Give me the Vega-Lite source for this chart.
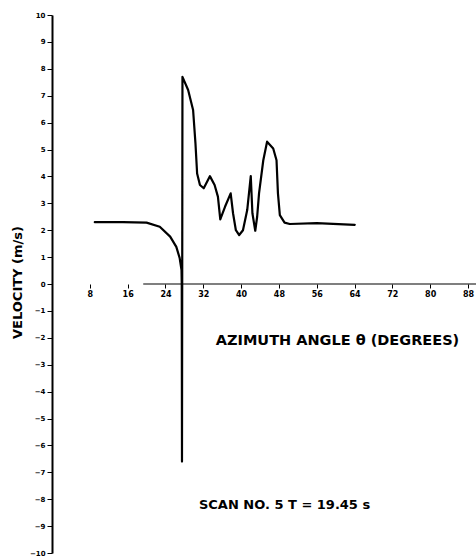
{
  "$schema": "https://vega.github.io/schema/vega-lite/v6.json",
  "width": 424,
  "height": 538,
  "autosize": {"type": "none"},
  "padding": {"left": 52, "top": 15, "right": 0, "bottom": 5},
  "background": "white",
  "config": {
    "view": {"stroke": null},
    "font": "DejaVu Sans",
    "axis": {"grid": false, "labelFont": "DejaVu Sans", "labelFontWeight": "bold", "titleFont": "DejaVu Sans", "titleFontWeight": "bold", "labelColor": "black", "titleColor": "black", "tickColor": "black", "domainColor": "black", "labelOverlap": false}
  },
  "layer": [
    {
      "data": {
        "values": [
          {"i": 1, "angle": 9.05, "velocity": 2.3},
          {"i": 2, "angle": 15.0, "velocity": 2.3},
          {"i": 3, "angle": 20.0, "velocity": 2.28},
          {"i": 4, "angle": 22.8, "velocity": 2.13},
          {"i": 5, "angle": 25.0, "velocity": 1.76},
          {"i": 6, "angle": 26.3, "velocity": 1.38},
          {"i": 7, "angle": 27.0, "velocity": 0.97},
          {"i": 8, "angle": 27.4, "velocity": 0.52},
          {"i": 9, "angle": 27.45, "velocity": 0.0},
          {"i": 10, "angle": 27.5, "velocity": -6.6},
          {"i": 11, "angle": 27.6, "velocity": 7.7},
          {"i": 12, "angle": 28.8, "velocity": 7.21},
          {"i": 13, "angle": 29.85, "velocity": 6.47},
          {"i": 14, "angle": 30.35, "velocity": 5.23},
          {"i": 15, "angle": 30.7, "velocity": 4.11},
          {"i": 16, "angle": 31.3, "velocity": 3.68},
          {"i": 17, "angle": 32.1, "velocity": 3.56},
          {"i": 18, "angle": 33.4, "velocity": 4.01},
          {"i": 19, "angle": 34.4, "velocity": 3.68},
          {"i": 20, "angle": 35.1, "velocity": 3.25},
          {"i": 21, "angle": 35.6, "velocity": 2.4},
          {"i": 22, "angle": 36.6, "velocity": 2.87},
          {"i": 23, "angle": 37.8, "velocity": 3.37},
          {"i": 24, "angle": 38.3, "velocity": 2.63},
          {"i": 25, "angle": 38.9, "velocity": 2.0},
          {"i": 26, "angle": 39.6, "velocity": 1.82},
          {"i": 27, "angle": 40.4, "velocity": 2.0},
          {"i": 28, "angle": 41.3, "velocity": 2.75},
          {"i": 29, "angle": 42.05, "velocity": 4.01},
          {"i": 30, "angle": 42.4, "velocity": 2.63},
          {"i": 31, "angle": 43.0, "velocity": 1.98},
          {"i": 32, "angle": 43.4, "velocity": 2.5},
          {"i": 33, "angle": 43.8, "velocity": 3.37},
          {"i": 34, "angle": 44.7, "velocity": 4.6},
          {"i": 35, "angle": 45.5, "velocity": 5.29},
          {"i": 36, "angle": 46.8, "velocity": 5.04},
          {"i": 37, "angle": 47.5, "velocity": 4.6},
          {"i": 38, "angle": 47.8, "velocity": 3.37},
          {"i": 39, "angle": 48.2, "velocity": 2.56},
          {"i": 40, "angle": 49.2, "velocity": 2.28},
          {"i": 41, "angle": 50.3, "velocity": 2.23},
          {"i": 42, "angle": 56.0, "velocity": 2.26},
          {"i": 43, "angle": 64.05, "velocity": 2.2}
        ]
      },
      "mark": {"type": "line", "color": "black", "strokeWidth": 2.2, "strokeJoin": "round", "strokeCap": "round"},
      "encoding": {
        "x": {
          "field": "angle", "type": "quantitative",
          "scale": {"domain": [0, 89.7], "nice": false},
          "axis": {
            "values": [8, 16, 24, 32, 40, 48, 56, 64, 72, 80, 88],
            "offset": -269,
            "domain": false,
            "tickSize": 4,
            "tickWidth": 1,
            "labelFontSize": 8,
            "labelPadding": 2,
            "title": "AZIMUTH ANGLE θ (DEGREES)",
            "titleFontSize": 14.5,
            "titleX": 285,
            "titleY": 56,
            "titleAnchor": "middle",
            "titleAlign": "center",
            "titleBaseline": "middle"
          }
        },
        "y": {
          "field": "velocity", "type": "quantitative",
          "scale": {"domain": [-10, 10], "nice": false},
          "axis": {
            "values": [-10, -9, -8, -7, -6, -5, -4, -3, -2, -1, 0, 1, 2, 3, 4, 5, 6, 7, 8, 9, 10],
            "labelOverlap": false,
            "domainWidth": 2,
            "tickSize": 5,
            "tickWidth": 1,
            "labelFontSize": 7,
            "labelPadding": 2,
            "title": "VELOCITY (m/s)",
            "titleFontSize": 13,
            "titleAngle": -90,
            "titleX": -35,
            "titleY": 267,
            "titleAlign": "center",
            "titleBaseline": "middle"
          }
        },
        "order": {"field": "i", "type": "quantitative"}
      }
    },
    {
      "data": {"values": [{}]},
      "mark": {"type": "rule", "color": "black", "strokeWidth": 1.2},
      "encoding": {
        "x": {"datum": 19.3, "type": "quantitative",
          "axis": {
            "values": [8, 16, 24, 32, 40, 48, 56, 64, 72, 80, 88],
            "offset": -269,
            "domain": false,
            "tickSize": 4,
            "tickWidth": 1,
            "labelFontSize": 8,
            "labelPadding": 2,
            "title": "AZIMUTH ANGLE θ (DEGREES)",
            "titleFontSize": 14.5,
            "titleX": 285,
            "titleY": 56,
            "titleAnchor": "middle",
            "titleAlign": "center",
            "titleBaseline": "middle"
          }
        },
        "x2": {"datum": 89.7},
        "y": {"datum": 0, "type": "quantitative",
          "axis": {
            "values": [-10, -9, -8, -7, -6, -5, -4, -3, -2, -1, 0, 1, 2, 3, 4, 5, 6, 7, 8, 9, 10],
            "labelOverlap": false,
            "domainWidth": 2,
            "tickSize": 5,
            "tickWidth": 1,
            "labelFontSize": 7,
            "labelPadding": 2,
            "title": "VELOCITY (m/s)",
            "titleFontSize": 13,
            "titleAngle": -90,
            "titleX": -35,
            "titleY": 267,
            "titleAlign": "center",
            "titleBaseline": "middle"
          }
        }
      }
    },
    {
      "data": {"values": [{}]},
      "mark": {"type": "text", "font": "DejaVu Sans", "fontWeight": "bold", "fontSize": 13, "align": "center", "baseline": "middle", "color": "black"},
      "encoding": {
        "x": {"datum": 49.2, "type": "quantitative",
          "axis": {
            "values": [8, 16, 24, 32, 40, 48, 56, 64, 72, 80, 88],
            "offset": -269,
            "domain": false,
            "tickSize": 4,
            "tickWidth": 1,
            "labelFontSize": 8,
            "labelPadding": 2,
            "title": "AZIMUTH ANGLE θ (DEGREES)",
            "titleFontSize": 14.5,
            "titleX": 285,
            "titleY": 56,
            "titleAnchor": "middle",
            "titleAlign": "center",
            "titleBaseline": "middle"
          }
        },
        "y": {"datum": -8.2, "type": "quantitative",
          "axis": {
            "values": [-10, -9, -8, -7, -6, -5, -4, -3, -2, -1, 0, 1, 2, 3, 4, 5, 6, 7, 8, 9, 10],
            "labelOverlap": false,
            "domainWidth": 2,
            "tickSize": 5,
            "tickWidth": 1,
            "labelFontSize": 7,
            "labelPadding": 2,
            "title": "VELOCITY (m/s)",
            "titleFontSize": 13,
            "titleAngle": -90,
            "titleX": -35,
            "titleY": 267,
            "titleAlign": "center",
            "titleBaseline": "middle"
          }
        },
        "text": {"value": "SCAN NO. 5  T = 19.45 s"}
      }
    }
  ]
}
